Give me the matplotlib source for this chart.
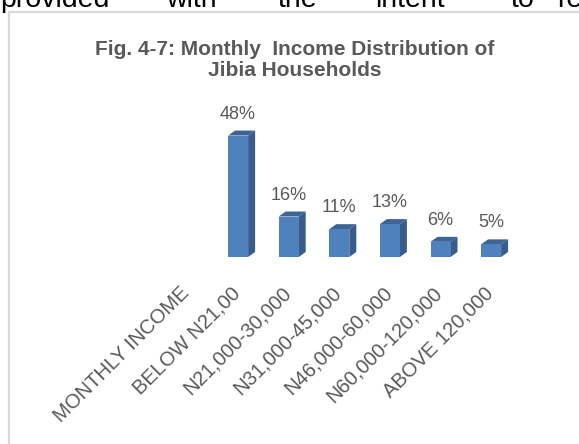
import matplotlib
matplotlib.use('Agg')
import matplotlib.pyplot as plt
from matplotlib.patches import Polygon, Rectangle
import numpy as np

plt.rcParams['font.family'] = ['Liberation Sans', 'DejaVu Sans']

# data
categories = ['MONTHLY INCOME', 'BELOW N21,00', 'N21,000-30,000', 'N31,000-45,000',
              'N46,000-60,000', 'N60,000-120,000', 'ABOVE 120,000']
values = [np.nan, 48, 16, 11, 13, 6, 5]
value_labels = ['', '48%', '16%', '11%', '13%', '6%', '5%']
title = 'Fig. 4-7: Monthly  Income Distribution of\nJibia Households'
top_words = ['provided', 'with', 'the', 'intent', 'to', 'rec']
top_word_x = [0, 166, 278, 375, 511, 557]

W, H = 579, 444
fig = plt.figure(figsize=(W / 100, H / 100), dpi=100)
fig.patch.set_facecolor('white')

# cut off line of body text above the chart
for word, px in zip(top_words, top_word_x):
    fig.text(px / W, 1 - 7 / H, word, fontsize=20.5, color='black',
             ha='left', va='baseline')

# chart border
fig.patches.append(Rectangle((9 / W, -0.05), 1.2, 1 - 12 / H + 0.05,
                             transform=fig.transFigure, fill=False,
                             edgecolor='#d9d9d9', linewidth=1.6))

fig.text(295 / W, 1 - 60 / H, title, ha='center', va='center', fontsize=15,
         fontweight='bold', color='#595959', linespacing=1.15)

# axes layout: x=0 at 187.5px, 50.6px per category; y=0 at 257px, 2.53px per %
px_x, px_y = 50.6, 2.53
left_px, right_px, top_px, base_px = 137, 570, 90, 257
x0 = 187.5
ax = fig.add_axes([left_px / W, (H - base_px) / H, (right_px - left_px) / W,
                   (base_px - top_px) / H])
ax.set_xlim((left_px - x0) / px_x, (right_px - x0) / px_x)
ax.set_ylim(0, (base_px - top_px) / px_y)
ax.axis('off')

bw = 20 / px_x
dx, dy = 7 / px_x, 5 / px_y
x = np.arange(len(categories))
for xi, v, lab in zip(x, values, value_labels):
    if np.isnan(v):
        continue
    l, r = xi - bw / 2, xi + bw / 2
    ax.bar(xi, v, width=bw, color='#4f81bd', edgecolor='none', zorder=3)
    ax.add_patch(Polygon([(r, 0), (r + dx, dy), (r + dx, v + dy), (r, v)],
                         closed=True, facecolor='#385d8a', edgecolor='none', zorder=2))
    ax.add_patch(Polygon([(l, v), (l + dx, v + dy), (r + dx, v + dy), (r, v)],
                         closed=True, facecolor='#3c6494', edgecolor='none', zorder=2))
    ax.text(xi, v + dy + 8 / px_y, lab, ha='center', va='bottom', fontsize=13,
            color='#595959')

# rotated category labels
for xi, cat in zip(x, categories):
    ax.text(xi - 1 / px_x, -33 / px_y, cat, rotation=45, rotation_mode='anchor',
            ha='right', va='center', fontsize=14.5, color='#595959', clip_on=False)

fig.savefig('out.png', dpi=100)
